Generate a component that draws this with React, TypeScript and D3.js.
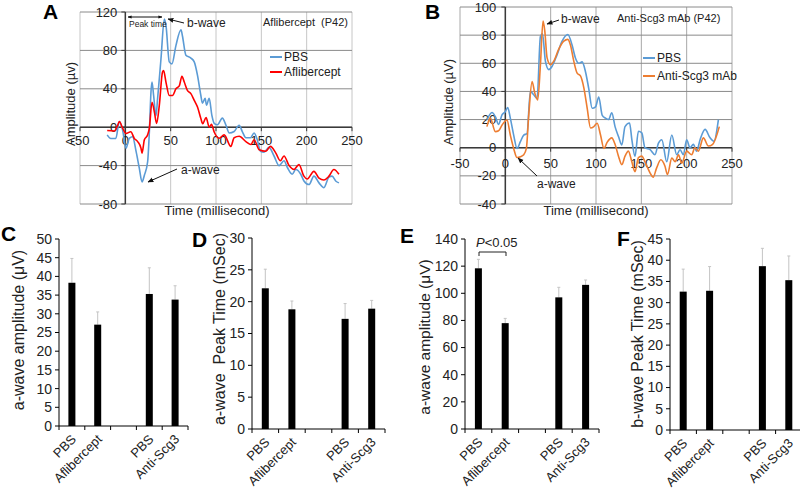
import React from 'react';
import * as d3 from 'd3';

const FONT = '"Liberation Sans", Arial, Helvetica, sans-serif';

// ---------- Line panels (ERG traces) ----------
const timeTicks = [-50, 0, 50, 100, 150, 200, 250];
const aYTicks = [-80, -40, 0, 40, 80, 120];
const bYTicks = [-40, -20, 0, 20, 40, 60, 80, 100];

// Panel A: PBS (blue)  [time ms, amplitude µV]
const aPbs: [number, number][] = [
  [-20, -8], [-16, -11.7], [-10.5, -11.7], [-6.6, 6], [-3, -3], [0.7, -22], [4.4, -11.7], [8, -10],
  [11.8, -25], [15.4, -42.6], [18.4, -57], [21, -50], [24.6, -36], [26.5, -5], [28.3, 37], [29.4, 47],
  [31.2, 33], [33.8, 12], [35.6, 30], [39.3, 71], [43, 112.6], [44.8, 106], [48.5, 68], [51.4, 66],
  [55.8, 85], [61.4, 101.5], [63, 95], [66.8, 75], [72.3, 72], [76, 68], [79.6, 54], [83.3, 33],
  [85, 25], [88, 30], [89.5, 23], [92.5, 30], [95.5, 12], [98, 4], [101.6, 2.5], [107, 9.5],
  [111, 2], [114.6, -6], [120, -4.5], [125.5, 2], [129, -4.5], [133, -11], [138, -11], [142, -6],
  [145.5, -13], [149, -25], [153, -26], [158.5, -21], [164, -30], [169.5, -40], [175, -35],
  [178.7, -42], [184, -49], [188, -44], [193.5, -49], [197, -56], [202.6, -59.7], [208, -51],
  [213.6, -58], [219, -63], [224.6, -52], [228, -51], [232, -56], [235.6, -58],
];

// Panel A: Aflibercept (red)
const aAfl: [number, number][] = [
  [-20, -3.5], [-12, -4], [-8.5, 2], [-6.6, 6], [-3, -1], [0.7, -6.5], [6, -4.8], [9.9, -11.7],
  [13.6, -15], [17.3, -22], [18.4, -27], [21, -13], [24.6, -8], [26.5, -1], [29.4, 26], [32, 16],
  [34.5, 4], [37.5, 23], [41, 57.5], [42.2, 59], [44.8, 47], [48.5, 33], [52, 33], [55.8, 40],
  [59.5, 43], [62.4, 53], [65, 47], [68.6, 38], [72.3, 35], [76, 28], [79.6, 21], [83.3, 9],
  [85.3, 3.6], [89, 10], [92.6, 0], [95, 3], [98, -5], [103.6, -11.5], [109, -8], [116.4, -20],
  [120, -11], [125.6, -9.5], [133, -15], [138.5, -18], [142, -13], [147.6, -23.5], [155, -25],
  [160, -20], [166, -27], [171, -35], [175, -30], [180.6, -40], [186, -44], [191.5, -39],
  [197, -51], [200.6, -54], [208, -46], [213.6, -53], [219, -55], [224.6, -51], [230, -44], [235.6, -49],
];

// Panel B: PBS (blue)
const bPbs: [number, number][] = [
  [-20.3, 19.8], [-14.7, 25], [-11, 22], [-7.4, 16.6], [-3.7, 23.4], [0, 25.6], [2.6, 28.6], [5.5, 21],
  [9.2, 9], [12.9, -0.5], [16.6, 4.3], [20.3, 9], [23.9, 10], [27.6, 40], [31.3, 37.6], [35, 35],
  [38.7, 79], [41, 81], [44.2, 61.5], [47.9, 55.5], [51.6, 57.9], [57, 66], [62.6, 75.7], [68.9, 80.5],
  [73.6, 73], [77.3, 63.8], [81, 60], [84.7, 61], [88.4, 54], [92, 42], [95.8, 28], [99.5, 29],
  [103, 36], [106.9, 23], [110.5, 21], [113.8, 20], [117.4, 24.8], [121, 15], [124.8, 8], [128.5, 2],
  [132, 15], [137, 17.6], [139.5, 6], [143, -6.2], [146.8, 11.7], [150.5, 10.5], [154, 0],
  [159.7, -1.4], [165, -5], [168.9, 3.3], [172.6, 5.7], [178, -10], [183.6, 9], [189, -5],
  [192.7, -1.4], [196.4, -5], [200, 5.7], [203.7, 0], [207.4, 2.4], [211, -2.4], [214.8, 5.7],
  [220.3, 13], [225.8, 7], [230, 4.5], [235, 20],
];

// Panel B: Anti-Scg3 mAb (orange)
const bScg3: [number, number][] = [
  [-20.3, 15], [-16.6, 21], [-11, 11.4], [-7.4, 12], [-3.7, 16], [1.8, 19.7], [5.5, 9], [9.2, -0.5],
  [12.9, -7], [16.6, -6.4], [20.3, -5], [23.2, -0.5], [25.8, 23], [29.5, 47], [32.4, 39], [35.7, 34],
  [38.7, 59], [41.6, 90], [43.5, 83], [46, 64], [49.7, 59], [53.4, 61.5], [58.9, 70], [64.5, 75.7],
  [68.9, 77], [71.8, 73], [75.5, 61.5], [79.2, 53], [82.9, 51], [86.6, 42.5], [90.3, 28], [94, 14],
  [97.6, 15], [101.3, 17.4], [105, 9], [108.7, -0.5], [112.4, 4], [117.4, 7], [121, 2.4],
  [124.8, -6], [128.5, -12], [132, -6], [135.7, -2.4], [139.5, -10], [143, -17], [146.8, -7],
  [150.5, -6], [154, -10], [159.7, -18], [163, -21], [166.8, -14.5], [171.5, -8.6], [176, -13],
  [178.8, -19], [183.6, -7.4], [187.3, -10], [191, -5], [194.6, -11], [200, -2.4], [205.6, -5],
  [209, 0], [212.9, -2.4], [218.4, 7], [224, 1.2], [228.7, 2.4], [236, 15],
];

// ---------- Bar panels ----------
const barLabels = ['PBS', 'Aflibercept', 'PBS', 'Anti-Scg3'];
const barSlots = [0, 1, 3, 4];
const cMean = [38.3, 27.1, 35.3, 33.8];
const cErr = [6.5, 3.4, 7.0, 3.7];
const dMean = [22.1, 18.8, 17.3, 18.9];
const dErr = [3.0, 1.3, 2.4, 1.3];
const eMean = [118.4, 78, 97, 106.2];
const eErr = [6.6, 3.5, 7.4, 3.6];
const fMean = [32.6, 32.8, 38.6, 35.3];
const fErr = [5.3, 5.7, 4.2, 5.7];

type Series = { data: [number, number][]; color: string; name: string };

function LinePanel(p: {
  left: number; right: number; top: number; bottom: number; yTicks: number[];
  series: Series[]; vGrid: string; hGrid: string;
  yTitle: string; yTitleX: number; yTitleY: number; xTitleX: number;
  xLabelDy: number; yLabelGap: number;
  legendX: number; legendY: number; legendGap: number;
}) {
  const x = d3.scaleLinear().domain([-50, 250]).range([p.left, p.right]);
  const y = d3.scaleLinear().domain([p.yTicks[0], p.yTicks[p.yTicks.length - 1]]).range([p.bottom, p.top]);
  const line = d3.line<[number, number]>().x(d => x(d[0])).y(d => y(d[1])).curve(d3.curveMonotoneX);
  const x0 = x(0), y0 = y(0);
  return (
    <g fontFamily={FONT}>
      {timeTicks.map(t => (
        <line key={'vg' + t} x1={x(t)} x2={x(t)} y1={p.top} y2={p.bottom} stroke={p.vGrid} strokeWidth={1} />
      ))}
      {p.yTicks.map(t => (
        <line key={'hg' + t} x1={p.left} x2={p.right} y1={y(t)} y2={y(t)} stroke={p.hGrid} strokeWidth={1} />
      ))}
      <line x1={x0} x2={x0} y1={p.top} y2={p.bottom} stroke="#3a3a3a" strokeWidth={1.5} />
      <line x1={p.left} x2={p.right} y1={y0} y2={y0} stroke="#3a3a3a" strokeWidth={1.5} />
      {p.yTicks.map(t => (
        <line key={'yt' + t} x1={x0 - 4} x2={x0} y1={y(t)} y2={y(t)} stroke="#3a3a3a" />
      ))}
      {timeTicks.map(t => (
        <line key={'xt' + t} x1={x(t)} x2={x(t)} y1={y0} y2={y0 + 4} stroke="#3a3a3a" />
      ))}
      {p.yTicks.map(t => (
        <text key={'yl' + t} x={x0 - p.yLabelGap} y={y(t)} dy="0.35em" textAnchor="end" fontSize={13} fill="#222">{t}</text>
      ))}
      {timeTicks.map(t => (
        <text key={'xl' + t} x={x(t)} y={y0 + p.xLabelDy} textAnchor="middle" fontSize={13} fill="#222">{t}</text>
      ))}
      {p.series.map(s => (
        <path key={s.name} d={line(s.data) || ''} fill="none" stroke={s.color} strokeWidth={1.6} strokeLinejoin="round" />
      ))}
      {p.series.map((s, i) => (
        <g key={'lg' + s.name}>
          <line x1={p.legendX} x2={p.legendX + 12} y1={p.legendY + i * p.legendGap} y2={p.legendY + i * p.legendGap} stroke={s.color} strokeWidth={2} />
          <text x={p.legendX + 14} y={p.legendY + i * p.legendGap} dy="0.35em" fontSize={12} fill="#222">{s.name}</text>
        </g>
      ))}
      <text transform={`translate(${p.yTitleX},${p.yTitleY}) rotate(-90)`} textAnchor="middle" fontSize={13} fill="#222">{p.yTitle}</text>
      <text x={p.xTitleX} y={215} textAnchor="middle" fontSize={13} fill="#222">Time (millisecond)</text>
    </g>
  );
}

function BarPanel(p: {
  left: number; right: number; top: number; bottom: number; max: number; step: number;
  mean: number[]; err: number[]; title: string; titleX: number; titleY: number; titleSize: number;
}) {
  const x = d3.scaleBand<number>().domain([0, 1, 2, 3, 4]).range([p.left, p.right]);
  const y = d3.scaleLinear().domain([0, p.max]).range([p.bottom, p.top]);
  const ticks = d3.range(0, p.max + p.step / 2, p.step);
  const bw = 7;
  const bounds = d3.range(0, 6).map(i => p.left + i * x.bandwidth());
  return (
    <g fontFamily={FONT}>
      {p.mean.map((m, i) => {
        const cx = (x(barSlots[i]) as number) + x.bandwidth() / 2;
        const top = y(m + p.err[i]);
        return (
          <g key={'b' + i}>
            <line x1={cx} x2={cx} y1={y(m)} y2={top} stroke="#c4c4c4" strokeWidth={1} />
            <line x1={cx - 1.5} x2={cx + 1.5} y1={top} y2={top} stroke="#c4c4c4" strokeWidth={1} />
            <rect x={cx - bw / 2} y={y(m)} width={bw} height={p.bottom - y(m)} fill="#000" />
            <text transform={`translate(${cx + 5},${p.bottom + 14}) rotate(-45)`} textAnchor="end" fontSize={13} fill="#222">{barLabels[i]}</text>
          </g>
        );
      })}
      <line x1={p.left} x2={p.left} y1={p.top} y2={p.bottom} stroke="#000" strokeWidth={1} />
      <line x1={p.left} x2={p.right} y1={p.bottom} y2={p.bottom} stroke="#000" strokeWidth={1} />
      {ticks.map(t => (
        <g key={'t' + t}>
          <line x1={p.left - 4} x2={p.left} y1={y(t)} y2={y(t)} stroke="#000" />
          <text x={p.left - 7} y={y(t)} dy="0.35em" textAnchor="end" fontSize={14} fill="#222">{t}</text>
        </g>
      ))}
      {bounds.map((b, i) => (
        <line key={'xb' + i} x1={b} x2={b} y1={p.bottom} y2={p.bottom + 4} stroke="#000" />
      ))}
      <text transform={`translate(${p.titleX},${p.titleY}) rotate(-90)`} textAnchor="middle" fontSize={p.titleSize} fill="#222" style={{ whiteSpace: 'pre' }}>{p.title}</text>
    </g>
  );
}

function Letter({ x, y, t }: { x: number; y: number; t: string }) {
  return <text x={x} y={y} fontFamily={FONT} fontWeight="bold" fontSize={21} fill="#000">{t}</text>;
}

export default function App() {
  return (
    <svg width={800} height={488} style={{ position: 'absolute', left: 0, top: 0, background: '#fff' }}>
      <defs>
        <marker id="arr" viewBox="0 0 10 10" refX="9" refY="5" markerWidth="6" markerHeight="6" orient="auto-start-reverse">
          <path d="M0,1 L10,5 L0,9 z" fill="#111" />
        </marker>
        <marker id="arrS" viewBox="0 0 10 10" refX="9" refY="5" markerWidth="4" markerHeight="4" orient="auto-start-reverse">
          <path d="M0,1 L10,5 L0,9 z" fill="#111" />
        </marker>
      </defs>
      <rect width={800} height={488} fill="#fff" />

      {/* Panel A */}
      <LinePanel left={80} right={352} top={12} bottom={204} yTicks={aYTicks}
        series={[{ data: aPbs, color: '#5b9bd5', name: 'PBS' }, { data: aAfl, color: '#ff0000', name: 'Aflibercept' }]}
        vGrid="#c6c6c6" hGrid="#8a8a8a" yTitle="Amplitude (µv)" yTitleX={75} yTitleY={104} xTitleX={217}
        xLabelDy={18} yLabelGap={8} legendX={270} legendY={57} legendGap={15} />
      <line x1={128} x2={162} y1={17} y2={17} stroke="#111" strokeWidth={1} markerStart="url(#arrS)" markerEnd="url(#arrS)" />
      <text x={129} y={27} fontFamily={FONT} fontSize={8.5} fill="#222">Peak time</text>
      <line x1={184} x2={168} y1={23} y2={19} stroke="#111" strokeWidth={1} markerEnd="url(#arr)" />
      <text x={187} y={27} fontFamily={FONT} fontSize={12} fill="#222">b-wave</text>
      <line x1={177} x2={148} y1={169} y2={182} stroke="#111" strokeWidth={1} markerEnd="url(#arr)" />
      <text x={181} y={174} fontFamily={FONT} fontSize={12} fill="#222">a-wave</text>
      <text x={263} y={26} fontFamily={FONT} fontSize={11} fill="#222" style={{ whiteSpace: 'pre' }}>Aflibercept  (P42)</text>
      <Letter x={43} y={19} t="A" />

      {/* Panel B */}
      <LinePanel left={460} right={732} top={7} bottom={204} yTicks={bYTicks}
        series={[{ data: bPbs, color: '#5b9bd5', name: 'PBS' }, { data: bScg3, color: '#ed7d31', name: 'Anti-Scg3 mAb' }]}
        vGrid="#a8a8a8" hGrid="#8a8a8a" yTitle="Amplitude (µV)" yTitleX={453} yTitleY={102} xTitleX={596}
        xLabelDy={20} yLabelGap={9} legendX={643} legendY={58} legendGap={18} />
      <line x1={559} x2={547} y1={20} y2={24} stroke="#111" strokeWidth={1} markerEnd="url(#arr)" />
      <text x={561} y={23} fontFamily={FONT} fontSize={12} fill="#222">b-wave</text>
      <line x1={537} x2={518} y1={176} y2={158} stroke="#111" strokeWidth={1} markerEnd="url(#arr)" />
      <text x={537} y={188} fontFamily={FONT} fontSize={12} fill="#222">a-wave</text>
      <text x={617} y={22} fontFamily={FONT} fontSize={11} fill="#222">Anti-Scg3 mAb (P42)</text>
      <Letter x={425} y={19} t="B" />

      {/* Panel C */}
      <BarPanel left={59} right={188} top={239} bottom={426} max={50} step={5} mean={cMean} err={cErr}
        title="a-wave amplitude (μV)" titleX={24} titleY={330} titleSize={16} />
      <Letter x={1} y={241} t="C" />

      {/* Panel D */}
      <BarPanel left={252} right={385} top={238} bottom={429} max={30} step={5} mean={dMean} err={dErr}
        title="a-wave  Peak Time (mSec)" titleX={225} titleY={329} titleSize={16} />
      <Letter x={192} y={247} t="D" />

      {/* Panel E */}
      <BarPanel left={465} right={599} top={239} bottom={429} max={140} step={20} mean={eMean} err={eErr}
        title="a-wave amplitude (μV)" titleX={430} titleY={337} titleSize={15.5} />
      <text x={476} y={247} fontFamily={FONT} fontSize={13} fill="#222"><tspan fontStyle="italic">P</tspan>&lt;0.05</text>
      <path d="M479,256 L479,252 L506,252 L506,256" fill="none" stroke="#222" strokeWidth={1} />
      <Letter x={400} y={243} t="E" />

      {/* Panel F */}
      <BarPanel left={670} right={802} top={239} bottom={430} max={45} step={5} mean={fMean} err={fErr}
        title="b-wave Peak Time (mSec)" titleX={643} titleY={334} titleSize={16} />
      <Letter x={617} y={246} t="F" />
    </svg>
  );
}
